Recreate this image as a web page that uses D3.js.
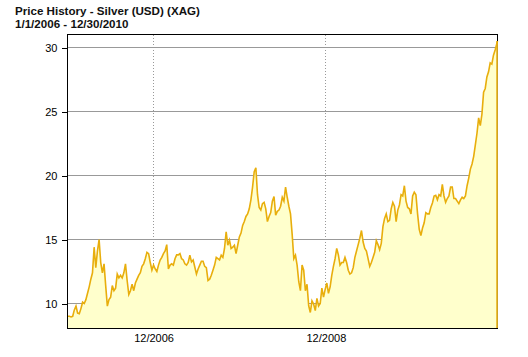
<!DOCTYPE html>
<html><head><meta charset="utf-8">
<script src="https://cdn.jsdelivr.net/npm/d3@7/dist/d3.min.js"></script>
<style>body{margin:0;background:#fff}svg{display:block}</style>
</head><body>
<svg id="chart" width="528" height="357"></svg>
<script>
const titleLines = ["Price History - Silver (USD) (XAG)", "1/1/2006 - 12/30/2010"];
const rangeStart = "2006-01-01";
const rangeEnd = "2010-12-30";
const firstWeek = "2006-01-02";
const yTicks = [10, 15, 20, 25, 30];
const xTickDates = ["2007-01-01", "2009-01-01"];
const xTickLabels = ["12/2006", "12/2008"];
// weekly closing prices (USD / oz)
const prices = [
  9.0, 9.0, 8.95, 9.0, 9.5, 9.8, 9.25, 9.2, 9.6, 10.1,
  10.0, 10.3, 10.8, 11.3, 11.9, 12.4, 14.4, 12.8, 14.1, 15.0,
  13.2, 12.4, 13.1, 11.4, 9.8, 10.3, 10.5, 11.4, 11.0, 11.2,
  12.3, 12.0, 12.2, 12.0, 12.4, 13.1, 11.8, 10.7, 11.0, 11.5,
  11.0, 11.6, 11.9, 12.2, 12.4, 12.9, 13.1, 13.5, 14.0, 13.9,
  13.2, 12.6, 13.0, 12.7, 12.5, 13.0, 13.4, 13.6, 13.9, 14.1,
  14.6, 12.7, 13.0, 13.1, 13.0, 13.5, 13.8, 13.8, 13.9, 13.5,
  13.4, 13.1, 13.0, 13.2, 13.77, 13.25, 13.4, 12.85, 12.3, 12.7,
  13.0, 13.3, 13.3, 12.9, 12.8, 11.8, 11.9, 12.2, 12.6, 13.0,
  13.6, 13.5, 13.4, 13.77, 13.6, 14.3, 15.6, 14.55, 14.95, 14.3,
  14.4, 14.55, 13.9, 14.55, 15.2, 15.5, 16.1, 16.4, 16.8, 17.0,
  17.4, 18.1, 19.1, 20.3, 20.6, 18.5, 17.5, 17.3, 17.8, 17.9,
  17.4, 16.4, 16.8, 17.1, 18.0, 18.35, 16.9, 17.2, 17.3, 17.6,
  18.3, 18.0, 19.1, 18.3, 17.6, 17.0, 15.4, 13.5, 13.77, 13.0,
  11.7, 11.0, 13.0, 12.6, 11.0, 11.5, 9.84, 9.3, 10.2, 9.95,
  9.45, 10.4, 9.8, 10.0, 11.2, 10.5, 11.1, 11.6, 10.8, 11.3,
  12.2, 12.9, 13.5, 14.3, 13.8, 13.0, 13.2, 13.2, 13.6, 13.2,
  12.6, 12.3, 12.4, 12.8, 13.6, 14.1, 14.6, 15.1, 15.7, 14.8,
  14.3, 14.1, 13.5, 12.9, 13.2, 13.6, 14.0, 14.9, 14.6, 14.2,
  14.7, 16.0, 16.65, 17.0, 16.4, 16.5, 17.4, 17.9, 17.6, 16.4,
  17.3, 17.7, 18.5, 18.4, 19.2, 18.0, 17.5, 17.4, 17.0, 18.4,
  18.7, 18.5, 17.0, 15.8, 15.3, 15.9, 16.3, 17.1, 17.0, 17.0,
  17.5, 17.85, 18.4, 18.45, 18.1, 18.5, 18.4, 19.3, 18.4, 17.9,
  18.2, 18.4, 19.1, 19.1, 18.2, 18.2, 18.0, 17.8, 18.1, 18.3,
  18.2, 18.4, 19.2, 19.8, 20.5, 20.9, 21.5, 22.4, 23.3, 24.5,
  23.9, 24.8, 26.5, 26.8, 27.7, 28.1, 28.8, 28.7, 29.4, 29.8,
  30.5
];

const parse = d3.utcParse("%Y-%m-%d");
const dates = prices.map((_, i) => d3.utcDay.offset(parse(firstWeek), 7 * i));
dates[dates.length - 1] = parse(rangeEnd);
const data = prices.map((v, i) => ({ date: dates[i], value: v }));

const L = 67.5, R = 497.5, T = 34.5, B = 328.5;
const x = d3.scaleUtc().domain([parse(rangeStart), parse(rangeEnd)]).range([L, R]);
const y = d3.scaleLinear().domain([8.047, 31.016]).range([B, T]);

const svg = d3.select("#chart");
const font = "'Liberation Sans', Arial, sans-serif";

// title
svg.append("g").selectAll("text").data(titleLines).join("text")
  .attr("x", 15).attr("y", (d, i) => 15 + i * 13)
  .attr("font-family", font).attr("font-weight", "bold").attr("font-size", 11.6)
  .attr("fill", "#111").text(d => d);

// horizontal gridlines
svg.append("g").selectAll("line").data(yTicks).join("line")
  .attr("x1", L).attr("x2", R)
  .attr("y1", d => Math.round(y(d) - 0.5) + 0.5).attr("y2", d => Math.round(y(d) - 0.5) + 0.5)
  .attr("stroke", "#999").attr("stroke-width", 1).attr("shape-rendering", "crispEdges");

// vertical dotted gridlines
svg.append("g").selectAll("line").data(xTickDates).join("line")
  .attr("x1", d => Math.floor(x(parse(d))) + 0.5).attr("x2", d => Math.floor(x(parse(d))) + 0.5)
  .attr("y1", T).attr("y2", B)
  .attr("stroke", "#999").attr("stroke-width", 1).attr("stroke-dasharray", "1,2")
  .attr("shape-rendering", "crispEdges");

// frame top/right
svg.append("path").attr("d", `M${L},${T}H${R}V${B}`)
  .attr("fill", "none").attr("stroke", "#000").attr("shape-rendering", "crispEdges");

// area
const area = d3.area().x(d => x(d.date)).y0(B).y1(d => y(d.value));
svg.append("path").datum(data).attr("d", area)
  .attr("fill", "#FFFFCC").attr("stroke", "none");
const line = d3.line().x(d => x(d.date)).y(d => y(d.value));
svg.append("path").datum(data).attr("d", line)
  .attr("fill", "none").attr("stroke", "#E8AE0C").attr("stroke-width", 1.6)
  .attr("stroke-linejoin", "miter");
const last = data[data.length - 1];
svg.append("line")
  .attr("x1", x(last.date) - 0.5).attr("x2", x(last.date) - 0.5)
  .attr("y1", B).attr("y2", y(last.value))
  .attr("stroke", "#E8AE0C").attr("stroke-width", 1.5);

// left axis
const yAxis = d3.axisLeft(y).tickValues(yTicks).tickSize(6).tickPadding(4).tickFormat(d3.format("d"));
const gy = svg.append("g").attr("transform", `translate(${L},0)`).call(yAxis);
gy.select(".domain").attr("d", `M0,${T - 0.5}V${B + 0.5}`).attr("stroke", "#000").attr("shape-rendering", "crispEdges");
gy.selectAll(".tick line").attr("stroke", "#000").attr("shape-rendering", "crispEdges");
gy.selectAll(".tick text").attr("font-family", font).attr("font-size", 11).attr("fill", "#000");

// bottom axis
const xAxis = d3.axisBottom(x).tickValues(xTickDates.map(parse)).tickSize(0).tickPadding(6)
  .tickFormat((d, i) => xTickLabels[i]);
const gx = svg.append("g").attr("transform", `translate(0,${B})`).call(xAxis);
gx.select(".domain").attr("d", `M${L - 0.5},0H${R + 0.5}`).attr("stroke", "#000").attr("stroke-width", 1.5).attr("shape-rendering", "crispEdges");
gx.selectAll(".tick text").attr("font-family", font).attr("font-size", 11).attr("fill", "#000");
</script>
</body></html>
